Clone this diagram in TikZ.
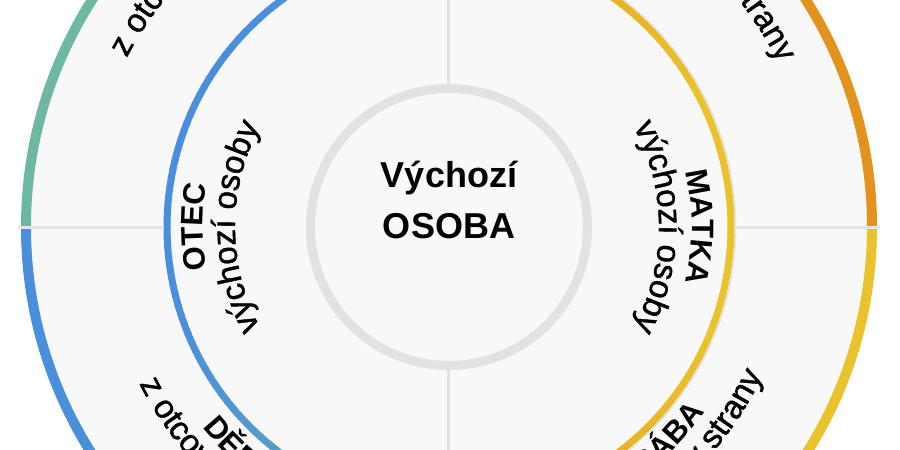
\documentclass[tikz,border=0pt]{standalone}
\usepackage{fontspec}
\setmainfont{Liberation Sans}
\newfontfamily\medfamily[FakeBold=1.3]{Liberation Sans}
\usepackage{tikz}
\usetikzlibrary{decorations.text}
\definecolor{tealarc}{HTML}{6DB8A2}
\definecolor{bluearc}{HTML}{4A8FDB}
\definecolor{orangearc}{HTML}{E3931D}
\definecolor{yellowarc}{HTML}{EAC22B}
\definecolor{ringgray}{HTML}{F8F8F8}
\definecolor{linegray}{HTML}{E3E3E3}
\definecolor{circgray}{HTML}{E2E2E2}
\newcommand\centrefont{\fontsize{36pt}{36pt}\selectfont\bfseries}
\newcommand\ringnamefont{\fontsize{31pt}{31pt}\selectfont\bfseries}
\newcommand\ringsubfont{\fontsize{33pt}{33pt}\selectfont\medfamily}
\tikzset{divider/.style={draw=linegray,line width=3pt}}
\tikzset{outer arc/.style={line width=10pt}}
\tikzset{inner arc/.style={line width=7pt}}
\tikzset{name label/.style={decorate,decoration={text along path,text align=center,text={|\ringnamefont|#1}}}}
\tikzset{side label/.style={decorate,decoration={text along path,text align=center,text={|\ringsubfont|#1}}}}

\begin{document}
\begin{tikzpicture}[x=1pt,y=1pt]
\useasboundingbox (-449,-223) rectangle (451,227);
\clip (-449,-223) rectangle (451,227);
\fill[white] (-449,-223) rectangle (451,227);
\fill[ringgray] (0,0) circle[radius=424pt];

% grandparents ring
\draw[outer arc,orangearc] (0:423pt) arc[start angle=0,end angle=90,radius=423pt];
\draw[outer arc,tealarc] (90:423pt) arc[start angle=90,end angle=180,radius=423pt];
\draw[outer arc,bluearc] (180:423pt) arc[start angle=180,end angle=270,radius=423pt];
\draw[outer arc,yellowarc] (270:423pt) arc[start angle=270,end angle=360,radius=423pt];

% parents ring, colour blended along the angle
\foreach \a in {90,92,...,268}{
  \pgfmathsetmacro\mix{max(0,(130-\a)*1.5,(\a-200)*75/70)}
  \pgfmathsetmacro\e{min(\a+2.4,270)}
  \draw[inner arc,tealarc!\mix!bluearc] (\a:282pt) arc[start angle=\a,end angle=\e,radius=282pt];
}
\foreach \a in {-90,-88,...,88}{
  \pgfmathsetmacro\mix{max(0,(abs(\a)-25)*70/65)}
  \pgfmathsetmacro\e{min(\a+2.4,90)}
  \draw[inner arc,orangearc!\mix!yellowarc] (\a:282pt) arc[start angle=\a,end angle=\e,radius=282pt];
}
\draw[circgray,line width=1.5pt] (-90:286.5pt) arc[start angle=-90,end angle=90,radius=286.5pt];

\node[circle,draw=circgray,line width=9pt,fill=ringgray,minimum size=277pt,inner sep=0pt] (ego) at (0,0) {};
\coordinate (top end) at (0,430);
\coordinate (bottom end) at (0,-430);
\coordinate (west in) at (-285,0);
\coordinate (west out) at (-431,0);
\coordinate (east in) at (285,0);
\coordinate (east out) at (431,0);
\draw[divider] (ego.north) -- (top end);
\draw[divider] (ego.south) -- (bottom end);
\draw[divider] (west in) -- (west out);
\draw[divider] (east in) -- (east out);

\node[font=\centrefont,anchor=base] (vychozi) at (0,40) {Výchozí};
\node[font=\centrefont,anchor=base] (osoba) at (0,-11) {OSOBA};

\path[name label=OTEC] (220:246pt) arc[start angle=220,end angle=140,radius=246pt];
\path[side label=výchozí osoby] (220:214pt) arc[start angle=220,end angle=140,radius=214pt];
\path[name label=MATKA] (40:243pt) arc[start angle=40,end angle=-40,radius=243pt];
\path[side label=výchozí osoby] (40:210pt) arc[start angle=40,end angle=-40,radius=210pt];

\path[side label=z otcovy strany] (175:364pt) arc[start angle=175,end angle=95,radius=364pt];
\path[side label=z matčiny strany] (85:368pt) arc[start angle=85,end angle=5,radius=368pt];
\path[name label=DĚDA] (187:318pt) arc[start angle=187,end angle=267,radius=318pt];
\path[side label=z otcovy strany] (185:347pt) arc[start angle=185,end angle=265,radius=347pt];
\path[name label=BÁBA] (276:316pt) arc[start angle=276,end angle=356,radius=316pt];
\path[side label=z matčiny strany] (275:347pt) arc[start angle=275,end angle=355,radius=347pt];
\end{tikzpicture}
\end{document}
